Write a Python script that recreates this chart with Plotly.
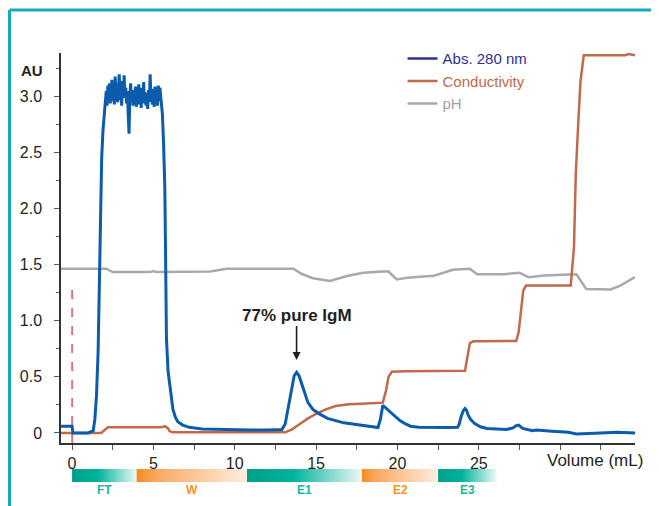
import plotly.graph_objects as go

# ---------------- data ----------------
abs_x = [-0.68, 0.0, 0.05, 0.5, 1.0, 1.3, 1.4, 1.5, 1.6, 1.7, 1.75, 1.82, 1.9, 1.96,
         2.00, 2.05, 2.10, 2.15, 2.20, 2.25, 2.30, 2.35, 2.40, 2.45, 2.50, 2.55, 2.60, 2.65,
         2.70, 2.75, 2.80, 2.85, 2.90, 2.95, 3.00, 3.05, 3.10, 3.15, 3.20, 3.25, 3.30, 3.35,
         3.40, 3.45, 3.50, 3.55, 3.60, 3.65, 3.70, 3.75, 3.80, 3.85, 3.90, 3.95, 4.00, 4.05,
         4.10, 4.15, 4.20, 4.25, 4.30, 4.35, 4.40, 4.45, 4.50, 4.55, 4.60, 4.65, 4.70, 4.75,
         4.80, 4.85, 4.90, 4.95, 5.00, 5.05, 5.10, 5.15, 5.20, 5.25, 5.30, 5.35, 5.40, 5.45,
         5.55, 5.62, 5.70, 5.74, 5.77, 5.80, 5.90, 6.05, 6.20, 6.35, 6.50, 6.80, 7.20, 8.0,
         9.0, 10.0, 11.0, 12.0, 12.9, 13.1, 13.3, 13.5, 13.65, 13.8, 13.95, 14.2, 14.5, 14.8,
         15.2, 15.7, 16.2, 16.7, 17.25, 18.1, 18.8, 18.95, 19.1, 19.3, 19.55, 19.8, 20.15,
         20.5, 20.8, 21.3, 21.8, 23.1, 23.7, 23.8, 23.9, 24.05, 24.15, 24.25, 24.35, 24.5,
         24.75, 25.1, 25.5, 26.7, 27.1, 27.3, 27.45, 27.7, 28.3, 28.55, 29.5, 30.5, 31.0,
         32.0, 32.5, 33.5, 34.6]
abs_y = [0.06, 0.06, 0.0, 0.0, 0.0, 0.02, 0.12, 0.33, 0.72, 1.5, 1.9, 2.45, 2.7, 2.8,
         2.88, 2.95, 3.05, 2.92, 3.10, 2.98, 3.12, 2.94, 3.02, 3.15, 2.96, 3.08, 2.93, 3.18,
         3.00, 3.12, 2.95, 3.06, 3.20, 2.97, 3.10, 2.92, 3.14, 2.99, 3.19, 3.01, 3.08, 2.94,
         3.05, 2.85, 2.67, 2.98, 3.12, 2.96, 3.04, 2.92, 3.06, 2.95, 3.09, 2.91, 3.02, 2.97,
         3.11, 2.93, 3.05, 2.90, 3.08, 2.96, 3.13, 2.94, 3.04, 2.92, 3.01, 2.89, 3.06, 2.95,
         3.20, 2.97, 3.07, 2.93, 3.03, 2.91, 3.09, 2.94, 3.05, 2.92, 3.10, 2.96, 3.08, 3.00,
         2.85, 2.60, 2.20, 1.70, 1.20, 0.85, 0.55, 0.35, 0.21, 0.14, 0.10, 0.07, 0.05, 0.035,
         0.03, 0.025, 0.025, 0.025, 0.03, 0.08, 0.25, 0.42, 0.51, 0.54, 0.51, 0.40, 0.27, 0.21,
         0.17, 0.13, 0.11, 0.09, 0.08, 0.065, 0.048, 0.12, 0.247, 0.22, 0.187, 0.15, 0.11,
         0.08, 0.06, 0.05, 0.048, 0.048, 0.05, 0.08, 0.14, 0.20, 0.217, 0.20, 0.158, 0.12,
         0.084, 0.055, 0.04, 0.03, 0.045, 0.065, 0.07, 0.04, 0.02, 0.025, 0.015, 0.005, -0.01,
         0.0, 0.0, 0.005, 0.0]

cond_x = [-0.68, 1.8, 1.95, 2.2, 5.2, 5.5, 5.7, 5.9, 6.0, 6.2, 13.1, 13.5, 14.0, 14.5, 15.0,
          15.6, 16.2, 17.0, 17.8, 18.5, 19.1, 19.3, 19.45, 19.65, 20.5, 24.15, 24.25, 24.45,
          24.65, 27.3, 27.45, 27.6, 27.73, 27.9, 30.65, 30.85, 30.96, 31.1, 31.25, 31.45,
          34.0, 34.2, 34.6]
cond_y = [0.0, 0.0, 0.02, 0.05, 0.05, 0.05, 0.06, 0.04, 0.015, 0.005, 0.005, 0.03, 0.08,
          0.13, 0.17, 0.21, 0.24, 0.255, 0.26, 0.265, 0.27, 0.38, 0.50, 0.545, 0.55, 0.555,
          0.65, 0.80, 0.817, 0.82, 0.90, 1.12, 1.27, 1.316, 1.316, 1.66, 2.31, 2.73, 3.14,
          3.37, 3.37, 3.38, 3.37]

ph_x = [-0.68, 2.1, 2.5, 4.8, 5.0, 5.2, 8.5, 9.5, 13.6, 14.1, 14.8, 15.86, 16.9, 17.9, 19.1,
        19.45, 19.95, 20.6, 22.0, 22.2, 23.4, 24.45, 24.9, 26.5, 27.5, 28.05, 29.0, 31.0,
        31.6, 33.1, 33.7, 34.6]
ph_y = [1.465, 1.465, 1.435, 1.435, 1.445, 1.435, 1.44, 1.465, 1.465, 1.42, 1.38, 1.355,
        1.40, 1.43, 1.44, 1.44, 1.37, 1.385, 1.40, 1.40, 1.455, 1.465, 1.415, 1.415, 1.43,
        1.39, 1.405, 1.415, 1.285, 1.28, 1.315, 1.39]

inject_x = [0, 0]
inject_y = [-0.09, 1.29]

phase_names = ["FT", "W", "E1", "E2", "E3"]
phase_edges = [0.0, 3.97, 10.75, 17.82, 22.5, 26.1]

peak_label = "77% pure IgM"
peak_x = 13.8
peak_y = 0.65

y_major = [0, 0.5, 1.0, 1.5, 2.0, 2.5, 3.0]
y_major_text = ["0", "0.5", "1.0", "1.5", "2.0", "2.5", "3.0"]
y_minor = [0.25, 0.75, 1.25, 1.75, 2.25, 2.75, 3.25]
x_ticks = [0, 2.5, 5, 7.5, 10, 12.5, 15, 17.5, 20, 22.5, 25, 27.5, 30, 32.5]
x_tick_text = ["0", "", "5", "", "10", "", "15", "", "20", "", "25", "", "", ""]

# ---------------- styles ----------------
FONT = "Liberation Sans, Arial, Helvetica, sans-serif"
BLUE = "#0b5cad"
BROWN = "#c1694b"
GRAY = "#a7a9ac"
TEAL_TXT = "#22b4a0"
ORANGE_TXT = "#f7941d"

phase_scales = {
    "FT": [[0, "#00a088"], [0.4, "#00b39c"], [1, "#eef8f6"]],
    "W": [[0, "#f68b1f"], [0.2, "#f9aa64"], [1, "#fdeee0"]],
    "E1": [[0, "#00a088"], [0.4, "#00b39c"], [1, "#eef8f6"]],
    "E2": [[0, "#f68b1f"], [0.2, "#f9aa64"], [1, "#fdeee0"]],
    "E3": [[0, "#00a088"], [0.4, "#00b39c"], [1, "#eef8f6"]],
}
phase_txt = {"FT": TEAL_TXT, "W": ORANGE_TXT, "E1": TEAL_TXT, "E2": ORANGE_TXT, "E3": TEAL_TXT}

fig = go.Figure()

fig.add_trace(go.Scatter(x=ph_x, y=ph_y, mode="lines", line=dict(color=GRAY, width=2.5),
                         showlegend=False, hoverinfo="skip"))
fig.add_trace(go.Scatter(x=cond_x, y=cond_y, mode="lines", line=dict(color=BROWN, width=2.5),
                         showlegend=False, hoverinfo="skip"))
fig.add_trace(go.Scatter(x=inject_x, y=inject_y, mode="lines",
                         line=dict(color="#e8202a", width=1.2, dash="dash"),
                         showlegend=False, hoverinfo="skip"))
fig.add_trace(go.Scatter(x=abs_x, y=abs_y, mode="lines", line=dict(color=BLUE, width=3),
                         showlegend=False, hoverinfo="skip"))

# legend entries
fig.add_trace(go.Scatter(x=[None], y=[None], mode="lines", line=dict(color="#2e3192", width=2.5),
                         name='<span style="color:#2e3192">Abs. 280 nm</span>'))
fig.add_trace(go.Scatter(x=[None], y=[None], mode="lines", line=dict(color=BROWN, width=2.5),
                         name='<span style="color:#c1694b">Conductivity</span>'))
fig.add_trace(go.Scatter(x=[None], y=[None], mode="lines", line=dict(color=GRAY, width=2.5),
                         name='<span style="color:#a0a2a5">pH</span>'))

# phase bars
annotations = []
for i, nm in enumerate(phase_names):
    a, b = phase_edges[i], phase_edges[i + 1]
    fig.add_trace(go.Scatter(
        x=[a, b, b, a, a], y=[0, 0, 1, 1, 0], mode="lines", line=dict(width=0),
        fill="toself", fillgradient=dict(type="horizontal", colorscale=phase_scales[nm]),
        xaxis="x2", yaxis="y2", showlegend=False, hoverinfo="skip"))
    annotations.append(dict(x=(a + b) / 2, y=-0.0092, xref="x", yref="paper",
                            text=f"<b>{nm}</b>", showarrow=False, yanchor="middle",
                            font=dict(family=FONT, size=12, color=phase_txt[nm])))

annotations += [
    dict(x=peak_x, y=peak_y, xref="x", yref="y", text=f"<b>{peak_label}</b>",
         showarrow=True, arrowhead=2, arrowsize=1, arrowwidth=1.6, arrowcolor="#231f20",
         ax=0, ay=-45, font=dict(family=FONT, size=17, color="#231f20")),
    dict(x=-0.028, y=1.0, xref="paper", yref="paper", text="<b>AU</b>", showarrow=False,
         xanchor="right", yanchor="middle", yshift=-17,
         font=dict(family=FONT, size=15, color="#231f20")),
    dict(x=1.017, y=0.0993, xref="paper", yref="paper", text="Volume (mL)", showarrow=False,
         xanchor="right", yanchor="top", yshift=-6,
         font=dict(family=FONT, size=17, color="#231f20")),
]

shapes = [
    dict(type="line", xref="paper", yref="paper", x0=-0.0897, x1=1.1, y0=1.0993, y1=1.0993,
         line=dict(color="#17a9c0", width=3)),
    dict(type="line", xref="paper", yref="paper", x0=-0.0897, x1=-0.0897, y0=-0.05, y1=1.0993,
         line=dict(color="#17a9c0", width=3)),
]

fig.update_layout(
    width=651, height=498,
    margin=dict(l=53, r=24, t=45, b=20),
    paper_bgcolor="white", plot_bgcolor="white",
    font=dict(family=FONT, size=15, color="#231f20"),
    showlegend=True,
    legend=dict(x=0.595, y=1.025, xanchor="left", yanchor="top", bgcolor="rgba(0,0,0,0)",
                font=dict(family=FONT, size=15), tracegroupgap=0, itemwidth=30),
    xaxis=dict(domain=[0, 1], range=[-0.68, 34.6], anchor="y", showgrid=False, zeroline=False,
               showline=True, linecolor="#333333", linewidth=1.5,
               tickmode="array", tickvals=x_ticks, ticktext=x_tick_text,
               ticks="outside", ticklen=5, tickcolor="#555555", tickwidth=1,
               tickfont=dict(family=FONT, size=16, color="#231f20")),
    yaxis=dict(domain=[0.0993, 1], range=[-0.09, 3.39], anchor="x", showgrid=False,
               zeroline=False, showline=True, linecolor="#333333", linewidth=1.5,
               tickmode="array", tickvals=y_major, ticktext=y_major_text,
               ticks="outside", ticklen=5, tickcolor="#4757a8", tickwidth=1.2,
               ticklabelstandoff=9,
               minor=dict(tickmode="array", tickvals=y_minor, ticks="outside", ticklen=3,
                          tickcolor="#4757a8", tickwidth=1.2),
               tickfont=dict(family=FONT, size=16, color="#231f20")),
    xaxis2=dict(domain=[0, 1], matches="x", anchor="y2", visible=False),
    yaxis2=dict(domain=[0.0092, 0.0393], range=[0, 1], anchor="x2", visible=False),
    annotations=annotations,
    shapes=shapes,
)

fig.write_html("out.html")
